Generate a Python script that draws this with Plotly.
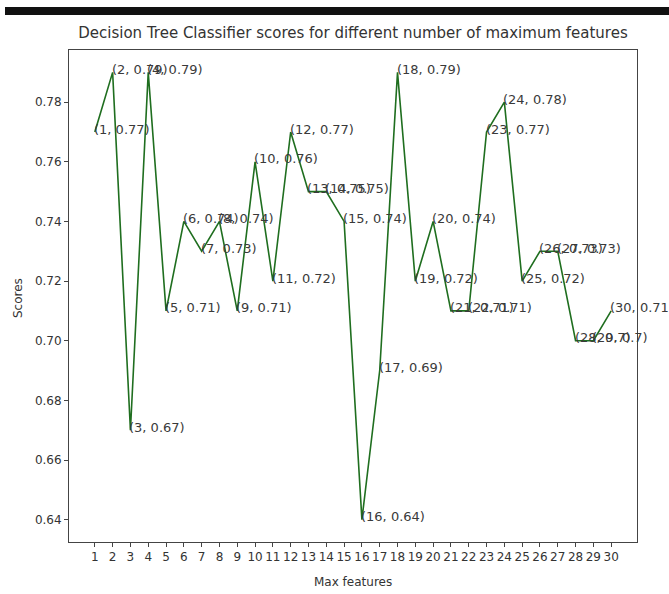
import plotly.graph_objects as go

max_features = list(range(1, 31))
scores = [0.77, 0.79, 0.67, 0.79, 0.71, 0.74, 0.73, 0.74, 0.71, 0.76,
          0.72, 0.77, 0.75, 0.75, 0.74, 0.64, 0.69, 0.79, 0.72, 0.74,
          0.71, 0.71, 0.77, 0.78, 0.72, 0.73, 0.73, 0.70, 0.70, 0.71]
y_ticks = [0.64, 0.66, 0.68, 0.70, 0.72, 0.74, 0.76, 0.78]

W, H = 669, 594
L, R, T, B = 69, 32, 50, 52
PW, PH = W - L - R, H - T - B
FONT = "DejaVu Sans"
TXT = "#333333"

fig = go.Figure()
fig.add_trace(go.Scatter(x=max_features, y=scores, mode="lines",
                         line=dict(color="#1f6e1f", width=1.6),
                         showlegend=False, hoverinfo="skip"))

for xv, yv in zip(max_features, scores):
    fig.add_annotation(x=xv, y=yv, text=f"({xv}, {yv})", showarrow=False,
                       xanchor="left", yanchor="middle", xshift=-3, yshift=3,
                       font=dict(family=FONT, size=13, color="#3a3a3a"))

# black band at the top of the image
fig.add_shape(type="rect", xref="paper", yref="paper",
              x0=(5 - L) / PW, x1=(W + 5 - L) / PW,
              y0=(H - B - 15) / PH, y1=(H - B - 7) / PH,
              fillcolor="#111111", line=dict(width=0), layer="above")

# axis titles
fig.add_annotation(xref="paper", yref="paper", x=0.5, y=(H - B - 582) / PH,
                   text="Max features", showarrow=False,
                   xanchor="center", yanchor="middle",
                   font=dict(family=FONT, size=12, color=TXT))
fig.add_annotation(xref="paper", yref="paper", x=(18 - L) / PW, y=(H - B - 298) / PH,
                   text="Scores", showarrow=False, textangle=-90,
                   xanchor="center", yanchor="middle",
                   font=dict(family=FONT, size=12, color=TXT))

fig.update_layout(
    width=W, height=H,
    margin=dict(l=L, r=R, t=T, b=B),
    paper_bgcolor="white", plot_bgcolor="white",
    font=dict(family=FONT, size=12, color=TXT),
    title=dict(text="Decision Tree Classifier scores for different number of maximum features",
               x=0.5, xref="paper", xanchor="center",
               y=1 - 33 / H, yref="container", yanchor="middle",
               font=dict(family=FONT, size=15, color=TXT)),
    xaxis=dict(range=[-0.45, 31.45], tickvals=max_features,
               ticktext=[str(v) for v in max_features],
               showgrid=False, zeroline=False, automargin=False,
               showline=True, linecolor="#444444", linewidth=1, mirror=True,
               ticks="outside", ticklen=4, tickcolor="#444444",
               tickfont=dict(family=FONT, size=12, color=TXT)),
    yaxis=dict(range=[0.6325, 0.7975], tickvals=y_ticks,
               ticktext=[f"{v:.2f}" for v in y_ticks],
               showgrid=False, zeroline=False, automargin=False,
               showline=True, linecolor="#444444", linewidth=1, mirror=True,
               ticks="outside", ticklen=4, tickcolor="#444444",
               tickfont=dict(family=FONT, size=12, color=TXT)),
)

fig.write_html("out.html", config={"displayModeBar": False},
               post_script="document.body.style.margin='0';document.body.style.overflow='hidden';")
